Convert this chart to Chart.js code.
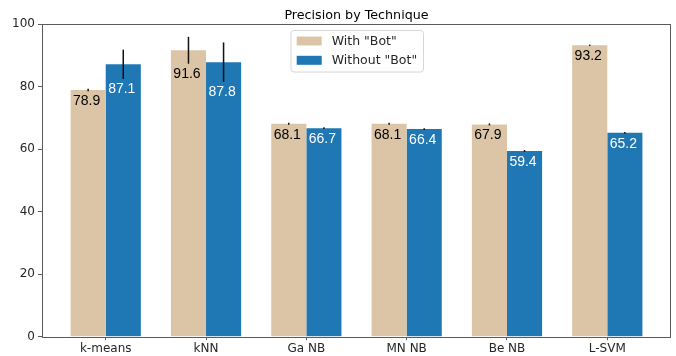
<!DOCTYPE html>
<html>
<head>
<meta charset="utf-8">
<style>
  html, body { margin: 0; padding: 0; background: #fff; }
  canvas { display: block; }
</style>
<script src="https://cdn.jsdelivr.net/npm/chart.js@4.4.1/dist/chart.umd.min.js"></script>
</head>
<body>
<canvas id="c" width="676" height="356"></canvas>
<script>
// Precision per technique, with and without the "Bot" feature
const techniques = ["k-means", "kNN", "Ga NB", "MN NB", "Be NB", "L-SVM"];
const withBot = [78.9, 91.6, 68.1, 68.1, 67.9, 93.2];
const withoutBot = [87.1, 87.8, 66.7, 66.4, 59.4, 65.2];
const withBotErr = [0.4, 4.3, 0.3, 0.3, 0.3, 0.2];
const withoutBotErr = [4.7, 6.3, 0.3, 0.3, 0.3, 0.3];
const yTicks = [0, 20, 40, 60, 80, 100];
const seriesNames = ['With "Bot"', 'Without "Bot"'];
const chartTitle = "Precision by Technique";

const TAN = "#dcc5a7";
const BLUE = "#1f77b4";
const TEXT = "#262626";
const SPINE = "#5a5a5a";

const toPoints = vals => vals.map((v, i) => ({ x: i, y: v }));

// Frame around the plotting area plus the title above it
const framePlugin = {
  id: "frame",
  afterDraw(chart) {
    const { ctx, chartArea: a } = chart;
    ctx.save();
    ctx.strokeStyle = SPINE;
    ctx.lineWidth = 1;
    ctx.strokeRect(Math.round(a.left) + 0.5, Math.round(a.top) + 0.5,
                   Math.round(a.right - a.left) - 1, Math.round(a.bottom - a.top));
    ctx.fillStyle = "#000";
    ctx.font = '12.7px "DejaVu Sans"';
    ctx.textAlign = "center";
    ctx.textBaseline = "alphabetic";
    ctx.fillText(chartTitle, (a.left + a.right) / 2, a.top - 4.7);
    ctx.restore();
  }
};

// Error bars and value labels sitting below the lower error whisker
const errorLabelPlugin = {
  id: "errorLabels",
  afterDatasetsDraw(chart) {
    const { ctx } = chart;
    const y = chart.scales.y;
    chart.data.datasets.forEach((ds, di) => {
      const meta = chart.getDatasetMeta(di);
      meta.data.forEach((bar, i) => {
        const v = ds.data[i].y;
        const e = ds.errors[i];
        const top = y.getPixelForValue(v + e);
        const bottom = y.getPixelForValue(v - e);
        ctx.save();
        ctx.strokeStyle = "#111";
        ctx.lineWidth = 1.5;
        ctx.beginPath();
        ctx.moveTo(bar.x, top);
        ctx.lineTo(bar.x, bottom);
        ctx.stroke();
        ctx.fillStyle = ds.labelColor;
        ctx.font = '14px "Liberation Sans"';
        ctx.textAlign = "center";
        ctx.textBaseline = "alphabetic";
        ctx.fillText(v.toFixed(1), bar.x - 1.5, bottom + 14);
        ctx.restore();
      });
    });
  }
};

// Legend box drawn inside the plotting area, upper centre
const legendPlugin = {
  id: "insideLegend",
  afterDraw(chart) {
    const { ctx, chartArea: a } = chart;
    const bx = 291, by = 30.5, bw = 132.5, bh = 41.5, r = 3;
    ctx.save();
    ctx.beginPath();
    ctx.moveTo(bx + r, by);
    ctx.arcTo(bx + bw, by, bx + bw, by + bh, r);
    ctx.arcTo(bx + bw, by + bh, bx, by + bh, r);
    ctx.arcTo(bx, by + bh, bx, by, r);
    ctx.arcTo(bx, by, bx + bw, by, r);
    ctx.closePath();
    ctx.fillStyle = "rgba(255,255,255,0.85)";
    ctx.fill();
    ctx.strokeStyle = "#d6d6d6";
    ctx.lineWidth = 1;
    ctx.stroke();
    chart.data.datasets.forEach((ds, i) => {
      const ry = by + 6 + i * 19.3;
      ctx.fillStyle = ds.backgroundColor;
      ctx.fillRect(bx + 5.7, ry, 25, 9);
      ctx.fillStyle = TEXT;
      ctx.font = '12.5px "DejaVu Sans"';
      ctx.textAlign = "left";
      ctx.textBaseline = "middle";
      ctx.fillText(ds.label, bx + 40.7, ry + 4.8);
    });
    ctx.restore();
  }
};

new Chart(document.getElementById("c"), {
  type: "bar",
  data: {
    datasets: [
      { label: seriesNames[0], data: toPoints(withBot), errors: withBotErr,
        backgroundColor: TAN, labelColor: "#000" },
      { label: seriesNames[1], data: toPoints(withoutBot), errors: withoutBotErr,
        backgroundColor: BLUE, labelColor: "#fff" }
    ]
  },
  options: {
    responsive: false,
    animation: false,
    devicePixelRatio: 1,
    layout: { padding: { top: 24, right: 5, left: 0, bottom: 0 } },
    datasets: { bar: { categoryPercentage: 0.7, barPercentage: 1.0, borderWidth: 0 } },
    plugins: { legend: { display: false }, title: { display: false }, tooltip: { enabled: false } },
    scales: {
      x: {
        type: "linear",
        offset: false,
        min: -0.635,
        max: 5.635,
        afterBuildTicks: s => { s.ticks = techniques.map((t, i) => ({ value: i })); },
        afterFit: s => { s.height = 19.3; },
        ticks: {
          autoSkip: false,
          maxRotation: 0,
          padding: 1,
          color: TEXT,
          font: { family: "DejaVu Sans", size: 12 },
          callback: v => techniques[v]
        },
        grid: { drawOnChartArea: false, drawTicks: true, tickLength: 3.5, tickColor: SPINE, offset: false },
        border: { display: false }
      },
      y: {
        min: 0,
        max: 100,
        afterBuildTicks: s => { s.ticks = yTicks.map(v => ({ value: v })); },
        afterFit: s => { s.width = 42; },
        ticks: {
          padding: 3,
          color: TEXT,
          font: { family: "DejaVu Sans", size: 12 }
        },
        grid: { drawOnChartArea: false, drawTicks: true, tickLength: 4, tickColor: SPINE },
        border: { display: false }
      }
    }
  },
  plugins: [framePlugin, errorLabelPlugin, legendPlugin]
});
</script>
</body>
</html>
